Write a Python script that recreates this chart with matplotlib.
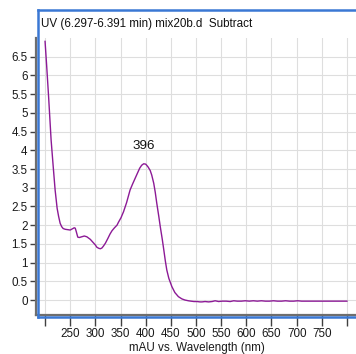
import matplotlib
matplotlib.use("Agg")
import matplotlib.pyplot as plt
from matplotlib.lines import Line2D

# UV spectrum (subtracted), absorbance in mAU against wavelength in nm
wavelength = [200, 203, 207, 212, 216, 220, 224, 227, 230, 233, 236, 240, 245, 250,
              254, 258, 260, 262, 265, 268, 273, 278, 283, 287, 290, 296, 300, 303,
              307, 310, 313, 316, 320, 325, 329, 333, 338, 343, 346, 351, 356, 362,
              369, 374, 379, 384, 388, 392, 396, 400, 402, 405, 409, 412, 416, 419,
              422, 426, 429, 433, 436, 439, 442, 446, 452, 458, 465, 472, 478, 485,
              490, 496, 502, 508, 512, 518, 525, 532, 538, 545, 552, 560, 568, 575,
              582, 590, 598, 606, 614, 622, 630, 638, 646, 654, 662, 670, 678, 686,
              694, 702, 710, 720, 730, 740, 750, 760, 770, 780, 790, 800]
absorbance = [6.91, 6.30, 5.44, 4.28, 3.60, 2.94, 2.45, 2.23, 2.05, 1.96, 1.91, 1.89, 1.88, 1.87,
              1.90, 1.93, 1.92, 1.83, 1.68, 1.67, 1.69, 1.71, 1.69, 1.65, 1.62, 1.53, 1.47, 1.41,
              1.38, 1.37, 1.39, 1.44, 1.52, 1.65, 1.76, 1.85, 1.93, 2.00, 2.08, 2.20, 2.36, 2.60,
              2.94, 3.10, 3.25, 3.40, 3.52, 3.60, 3.64, 3.63, 3.60, 3.55, 3.46, 3.34, 3.12, 2.88,
              2.59, 2.24, 1.96, 1.62, 1.34, 1.05, 0.80, 0.58, 0.36, 0.20, 0.09, 0.03, 0.00, -0.02,
              -0.03, -0.04, -0.04, -0.05, -0.05, -0.04, -0.05, -0.04, -0.02, -0.04, -0.03, -0.03, -0.04, -0.02,
              -0.03, -0.03, -0.02, -0.03, -0.02, -0.03, -0.02, -0.03, -0.03, -0.02, -0.03, -0.03, -0.02, -0.03,
              -0.03, -0.02, -0.03, -0.03, -0.03, -0.03, -0.03, -0.03, -0.03, -0.03, -0.03, -0.03]

peak_wavelength = 396
peak_label = "396"
title_text = "UV (6.297-6.391 min) mix20b.d  Subtract"
x_label = "mAU vs. Wavelength (nm)"
x_ticks = list(range(200, 801, 50))
x_tick_labels = ["" if (t == 200 or t == 800) else str(t) for t in x_ticks]
y_ticks = [i * 0.5 for i in range(14)]
y_tick_labels = ["0", "0.5", "1", "1.5", "2", "2.5", "3", "3.5", "4", "4.5", "5", "5.5", "6", "6.5"]

plt.rcParams["font.family"] = ["Liberation Sans", "DejaVu Sans"]

W, H = 356, 354
fig = plt.figure(figsize=(W / 100, H / 100), dpi=100)

ax_left, ax_right, ax_top, ax_bottom = 36, 358, 38, 315
ax = fig.add_axes([ax_left / W, 1 - ax_bottom / H, (ax_right - ax_left) / W, (ax_bottom - ax_top) / H])

ax.plot(wavelength, absorbance, color="#8c1a96", linewidth=1.0, zorder=3)

ax.set_xlim(182, 822)
ax.set_ylim(-0.40, 7.0)

ax.set_xticks(x_ticks)
ax.set_xticklabels(x_tick_labels)
ax.set_yticks(y_ticks)
ax.set_yticklabels(y_tick_labels)

ax.grid(True, color="#dedede", linewidth=0.8, zorder=0)
ax.set_axisbelow(True)

for side in ("top", "right"):
    ax.spines[side].set_visible(False)
for side in ("left", "bottom"):
    ax.spines[side].set_color("#6e6e6e")
    ax.spines[side].set_linewidth(1.6)

ax.tick_params(axis="y", direction="out", length=4, width=1.0, color="#404040",
               labelsize=8.4, labelcolor="#1a1a1a", pad=2)
ax.tick_params(axis="x", direction="out", length=8, width=1.0, color="#404040",
               labelsize=8.4, labelcolor="#1a1a1a", pad=1.5)

ax.set_xlabel(x_label, fontsize=8.4, color="#1a1a1a", labelpad=1.5)

# peak annotation above the maximum
peak_val = absorbance[wavelength.index(peak_wavelength)]
ax.text(peak_wavelength, peak_val + 0.48, peak_label, ha="center", va="center",
        fontsize=9.6, color="#111111")

# blue panel frame
frame_color = "#3a78d4"
fl, ft, fb = 38, 10, 317
fig.add_artist(Line2D([fl / W, fl / W], [1 - ft / H, 1 - fb / H], transform=fig.transFigure,
                      color=frame_color, linewidth=1.8, solid_capstyle="projecting"))
fig.add_artist(Line2D([fl / W, 1.01], [1 - ft / H, 1 - ft / H], transform=fig.transFigure,
                      color=frame_color, linewidth=1.8, solid_capstyle="projecting"))
fig.add_artist(Line2D([fl / W, 1.01], [1 - fb / H, 1 - fb / H], transform=fig.transFigure,
                      color=frame_color, linewidth=1.8, solid_capstyle="projecting"))

fig.text(41 / W, 1 - 24 / H, title_text, ha="left", va="center", fontsize=8.4, color="#111111")

fig.savefig("out.png", dpi=100)
